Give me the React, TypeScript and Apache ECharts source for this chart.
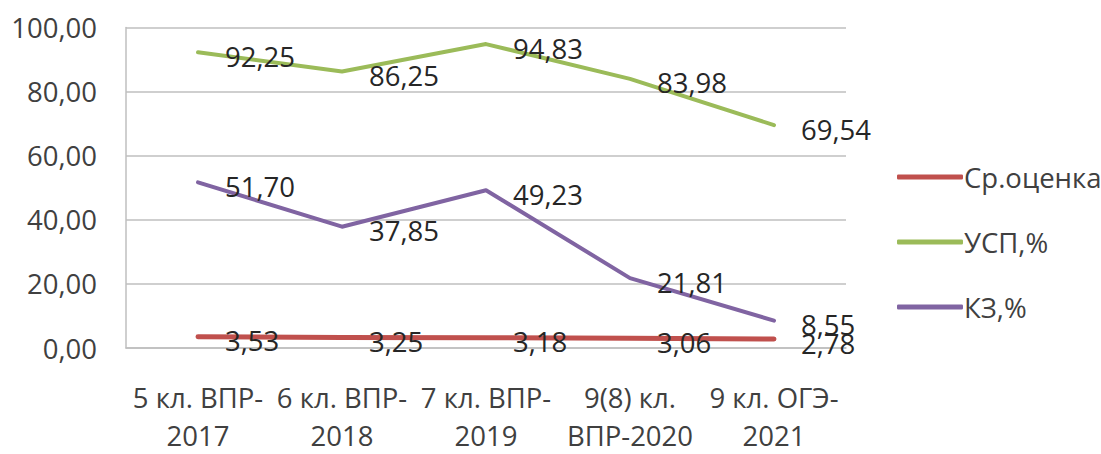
import React, { useEffect, useRef } from "react";
import * as echarts from "echarts";

const categories = [
  "5 кл. ВПР-\n2017",
  "6 кл. ВПР-\n2018",
  "7 кл. ВПР-\n2019",
  "9(8) кл.\nВПР-2020",
  "9 кл. ОГЭ-\n2021",
];
const seriesNames = ["Ср.оценка", "УСП,%", "КЗ,%"];
const avgScore = [3.53, 3.25, 3.18, 3.06, 2.78];
const uspPct = [92.25, 86.25, 94.83, 83.98, 69.54];
const kzPct = [51.7, 37.85, 49.23, 21.81, 8.55];
const colors = ["#C0504D", "#9BBB59", "#8064A2"];
const lineWidths = [5, 4, 4];

const FONT = "'Open Sans', 'Noto Sans', sans-serif";
const FS = 27.5;
const fmt = (v: number) => v.toFixed(2).replace(".", ",");

export default function App() {
  const ref = useRef<HTMLDivElement>(null);
  useEffect(() => {
    if (!ref.current) return;
    const chart = echarts.init(ref.current, undefined, { renderer: "svg" });
    const data = [avgScore, uspPct, kzPct];
    chart.setOption({
      animation: false,
      backgroundColor: "#ffffff",
      grid: { left: 126, right: 255, top: 27.5, bottom: 100.7, containLabel: false },
      legend: {
        orient: "vertical",
        left: 892,
        top: 158,
        itemWidth: 66,
        itemHeight: 5,
        itemGap: 37,
        icon: "roundRect",
        data: seriesNames,
        textStyle: { fontFamily: FONT, fontSize: FS, color: "#404040", lineHeight: 28, padding: [0, 0, 0, -4] },
      },
      xAxis: {
        type: "category",
        data: categories,
        boundaryGap: true,
        axisLine: { lineStyle: { color: "#bfbfbf", width: 1.5 } },
        axisTick: { show: false },
        axisLabel: {
          interval: 0,
          margin: 30,
          fontFamily: FONT,
          fontSize: FS,
          lineHeight: 38,
          color: "#404040",
        },
      },
      yAxis: {
        type: "value",
        min: 0,
        max: 100,
        interval: 20,
        axisLine: { show: true, lineStyle: { color: "#bfbfbf", width: 1.5 } },
        axisTick: { show: false },
        splitLine: { lineStyle: { color: "#bfbfbf", width: 1.5 } },
        axisLabel: {
          margin: 29,
          fontFamily: FONT,
          fontSize: FS,
          color: "#404040",
          formatter: (v: number) => fmt(v),
        },
      },
      series: seriesNames.map((name, i) => ({
        name,
        type: "line",
        data: data[i],
        color: colors[i],
        symbol: "circle",
        symbolSize: 2,
        lineStyle: { width: lineWidths[i], color: colors[i], cap: "round", join: "round" },
        itemStyle: { color: colors[i] },
        z: i === 0 ? 3 : 2,
        label: {
          show: true,
          position: "right",
          distance: 26,
          offset: [0, 4],
          fontFamily: FONT,
          fontSize: FS,
          color: "#262626",
          formatter: (p: any) => fmt(p.value),
        },
      })),
    });
    return () => chart.dispose();
  }, []);
  return (
    <div
      ref={ref}
      style={{ position: "absolute", left: 0, top: 0, width: 1101, height: 454 }}
    />
  );
}
